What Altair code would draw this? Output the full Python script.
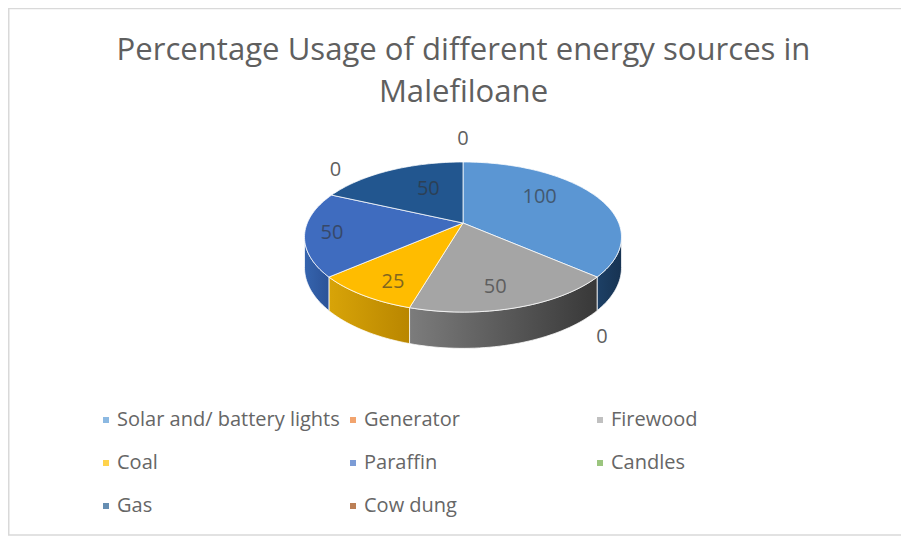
import math
import altair as alt
import pandas as pd

# ---- chart values ----
sources = ["Solar and/ battery lights", "Generator", "Firewood", "Coal",
           "Paraffin", "Candles", "Gas", "Cow dung"]
values = [100, 0, 50, 25, 50, 0, 50, 0]
title_lines = ["Percentage Usage  of different energy sources in", "Malefiloane"]
# the legend fills column by column, so this order reads row by row as in the source
legend_order = ["Solar and/ battery lights", "Coal", "Gas",
                "Generator", "Paraffin", "Cow dung",
                "Firewood", "Candles"]

# ---- style ----
legend_palette = {"Solar and/ battery lights": "#5B9BD5", "Generator": "#ED7D31",
                  "Firewood": "#A5A5A5", "Coal": "#FFC000", "Paraffin": "#4472C4",
                  "Candles": "#70AD47", "Gas": "#255E91", "Cow dung": "#9E480E"}
top_colors = {"Solar and/ battery lights": "#5B96D3", "Firewood": "#A5A5A5",
              "Coal": "#FFBC00", "Paraffin": "#3F6CBF", "Gas": "#22568F"}
side_stops = {"Solar and/ battery lights": ("#1D4066", "#173352"),
              "Firewood": ("#7C7C7C", "#383838"),
              "Coal": ("#D8A408", "#B98600"),
              "Paraffin": ("#3564AE", "#2C5398")}
FONT = "Open Sans"
TEXT = "#5F5F5F"

# perspective view of the pie
CX, CY, BX, AY, K, DEPTH = 463, 223, 155.7, 72.4, 0.187, 29.5
X0, X1, Y0, Y1 = 8, 901, 98, 536


def project(theta, r=1.0):
    sx, cy_ = r * math.sin(theta), r * math.cos(theta)
    w = 1 + K * cy_
    return CX + BX * sx / w, CY - AY * cy_ / w, DEPTH / w


def arc_angles(a, b):
    n = max(2, int((b - a) / math.radians(1.5)))
    return [a + (b - a) * i / n for i in range(n + 1)]


xs = alt.Scale(domain=[X0, X1], nice=False, zero=False)
ys = alt.Scale(domain=[Y1, Y0], nice=False, zero=False)


def polygon(points, **mark):
    df = pd.DataFrame({"x": [p[0] for p in points], "y": [p[1] for p in points],
                       "i": list(range(len(points)))})
    return alt.Chart(df).mark_line(interpolate="linear-closed", **mark).encode(
        x=alt.X("x:Q", scale=xs, axis=None),
        y=alt.Y("y:Q", scale=ys, axis=None),
        order=alt.Order("i:Q"),
    )


total = sum(values)
spans = {}
pos = 0.0
for name, v in zip(sources, values):
    spans[name] = (pos, pos + 2 * math.pi * v / total)
    pos = spans[name][1]

# the rim is visible between the widest points of the projected circle
vis_from, vis_to = math.pi / 2 + math.asin(K), 3 * math.pi / 2 - math.asin(K)

layers = []
# legend carrier, hidden below the pie
legend_df = pd.DataFrame({"source": sources, "x": [CX] * 8, "y": [CY] * 8})
layers.append(alt.Chart(legend_df).mark_square(size=1).encode(
    x=alt.X("x:Q", scale=xs, axis=None),
    y=alt.Y("y:Q", scale=ys, axis=None),
    color=alt.Color("source:N", sort=legend_order,
                    scale=alt.Scale(domain=legend_order,
                                    range=[legend_palette[s] for s in legend_order]),
                    legend=alt.Legend(title=None, orient="none", legendX=88, legendY=312,
                                      columns=3, gridAlign="all", symbolType="square",
                                      symbolSize=36, symbolStrokeWidth=0, labelFont=FONT,
                                      labelFontSize=20, labelColor="#666666", labelLimit=300,
                                      labelOffset=1, rowPadding=23, columnPadding=3)),
))

for name, (a, b) in spans.items():
    if name not in side_stops or b <= vis_from or a >= vis_to:
        continue
    lo, hi = max(a, vis_from), min(b, vis_to)
    ang = arc_angles(lo, hi)
    upper = [project(t)[:2] for t in ang]
    lower = [(project(t)[0], project(t)[1] + project(t)[2]) for t in reversed(ang)]
    c1, c2 = side_stops[name]
    grad = alt.Gradient(gradient="linear", x1=0, x2=1, y1=0, y2=0,
                        stops=[alt.GradientStop(color=c1, offset=0),
                               alt.GradientStop(color=c2, offset=1)])
    layers.append(polygon(upper + lower, fill=grad, stroke="#FFFFFF",
                          strokeWidth=1, strokeOpacity=0.75))

for name, (a, b) in spans.items():
    if b == a:
        continue
    pts = [(CX, CY)] + [project(t)[:2] for t in arc_angles(a, b)]
    layers.append(polygon(pts, fill=top_colors[name], stroke="#FFFFFF",
                          strokeWidth=1, strokeOpacity=0.75))

# data labels, placed from each slice's angle
label_nudge = {"Solar and/ battery lights": (-11, -7), "Firewood": (0, 13), "Coal": (-9, 15),
               "Paraffin": (-29, 3), "Gas": (15, 2),
               "Generator": (5, 60), "Candles": (4, -25), "Cow dung": (0, -23)}
rows = []
for name, v in zip(sources, values):
    a, b = spans[name]
    px, py, _ = project((a + b) / 2, 0.65 if v else 1.0)
    dx, dy = label_nudge[name]
    rows.append({"x": px + dx, "y": py + dy, "label": str(v), "zero": v == 0})
labels = pd.DataFrame(rows)
for is_zero, color, opacity in [(False, "#333333", 0.62), (True, TEXT, 1)]:
    layers.append(alt.Chart(labels[labels.zero == is_zero]).mark_text(
        font=FONT, fontSize=20, color=color, opacity=opacity, align="center", baseline="middle"
    ).encode(x=alt.X("x:Q", scale=xs, axis=None), y=alt.Y("y:Q", scale=ys, axis=None), text="label:N"))

# frame of the picture
FRAME = "#D9D9D9"
layers.append(alt.Chart(legend_df.head(1)).mark_rule(color=FRAME, strokeWidth=1.5).encode(
    x=alt.value(0.75), y=alt.value(-89.5), y2=alt.value(437)))
layers.append(alt.Chart(legend_df.head(1)).mark_rule(color=FRAME, strokeWidth=1.5).encode(
    x=alt.value(0), x2=alt.value(X1 - X0), y=alt.value(-89.5)))
layers.append(alt.Chart(legend_df.head(1)).mark_rule(color=FRAME, strokeWidth=1.5).encode(
    x=alt.value(0), x2=alt.value(X1 - X0), y=alt.value(437)))

chart = alt.layer(*layers).properties(
    width=X1 - X0, height=Y1 - Y0,
    padding={"left": 0, "right": 0, "top": 90, "bottom": 0},
    autosize=alt.AutoSizeParams(type="none"),
    background="#FFFFFF",
    title=alt.TitleParams(text=title_lines, font=FONT, fontSize=31.1, fontWeight="normal",
                          color=TEXT, anchor="middle", lineHeight=42, dx=9, dy=100, offset=0),
).configure_view(stroke=None)

chart.save("out.html", embed_options={"renderer": "svg", "actions": False})
